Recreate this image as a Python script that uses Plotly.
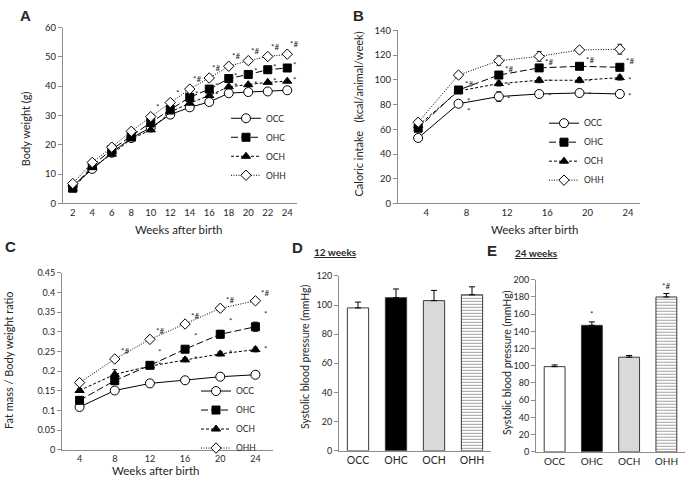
import plotly.graph_objects as go

W, H = 689, 493
FONT = "Lato"
TXT = "#262626"
AX = "#8c8c8c"

groups = ["OCC", "OHC", "OCH", "OHH"]

# ---------- Panel A: body weight ----------
weeks_A = [2, 4, 6, 8, 10, 12, 14, 16, 18, 20, 22, 24]
bw = {
    "OCC": [6.0, 11.8, 17.3, 22.3, 25.9, 30.3, 32.8, 34.6, 37.6, 38.0, 38.2, 38.6],
    "OHC": [5.2, 12.9, 18.4, 23.1, 27.6, 32.0, 36.2, 39.0, 42.6, 44.0, 45.6, 46.2],
    "OCH": [5.0, 12.3, 16.8, 22.0, 25.1, 31.2, 34.2, 36.8, 39.8, 40.5, 41.3, 41.7],
    "OHH": [6.8, 14.0, 19.2, 24.6, 29.6, 34.4, 39.0, 42.8, 46.8, 48.7, 50.1, 50.9],
}
sig_A = {
    "OHH": ["", "", "", "", "*", "*", "*#", "*#", "*#", "*#", "*#", "*#"],
    "OHC": ["", "", "", "", "", "", "*", "*", "*", "*", "*", "*"],
    "OCH": ["", "", "", "", "", "", "", "*", "*", "*", "*", "*"],
}

# ---------- Panel B: caloric intake ----------
weeks_B = [4, 8, 12, 16, 20, 24]
cal = {
    "OCC": [53.0, 80.7, 86.5, 88.6, 89.4, 88.6],
    "OHC": [60.9, 91.8, 103.9, 109.7, 111.0, 110.2],
    "OCH": [63.0, 91.0, 97.0, 99.7, 99.7, 101.8],
    "OHH": [65.7, 103.9, 115.5, 119.0, 124.2, 124.8],
}
cal_err = {
    "OCC": [2, 2, 4, 2, 3, 3],
    "OHC": [2, 2, 2, 2, 2, 2],
    "OCH": [2, 2, 2, 2, 2, 2],
    "OHH": [2, 2, 4, 4, 2, 4],
}
sig_B = {
    "OHC": ["", "*#", "*#", "*#", "*#", "*#"],
    "OCH": ["", "", "*", "*", "*", "*"],
    "OCC": ["", "*<br>*", "*", "*", "*", "*"],
}

# ---------- Panel C: fat mass ratio ----------
weeks_C = [4, 8, 12, 16, 20, 24]
fat = {
    "OCC": [0.109, 0.151, 0.169, 0.177, 0.186, 0.191],
    "OHC": [0.126, 0.176, 0.215, 0.256, 0.294, 0.313],
    "OCH": [0.151, 0.192, 0.213, 0.229, 0.244, 0.255],
    "OHH": [0.171, 0.231, 0.281, 0.320, 0.360, 0.379],
}
fat_err = {
    "OCC": [0.004, 0.004, 0.004, 0.004, 0.004, 0.004],
    "OHC": [0.005, 0.006, 0.005, 0.006, 0.010, 0.012],
    "OCH": [0.005, 0.012, 0.005, 0.005, 0.005, 0.006],
    "OHH": [0.004, 0.004, 0.004, 0.004, 0.004, 0.004],
}
sig_C = {
    "OHH": ["", "*#", "*#", "*#", "*#", "*#"],
    "OHC": ["", "", "*", "*", "*", "*"],
    "OCH": ["", "", "*", "*", "*", "*"],
}

# ---------- Panels D/E: systolic blood pressure ----------
sbp12 = [98, 105, 103, 107]
sbp12_err = [4, 6, 7, 5.5]
sbp24 = [99, 147, 110, 180]
sbp24_err = [2, 4, 2, 4]
sig24 = ["", "*", "", "*#"]

# ---------- styles ----------
style = {
    "OCC": dict(dash="solid", symbol="circle", fill="white", size=9),
    "OHC": dict(dash="7px,3px", symbol="square", fill="black", size=8),
    "OCH": dict(dash="3px,2px", symbol="triangle-up", fill="black", size=8),
    "OHH": dict(dash="1px,1.5px", symbol="diamond", fill="white", size=8),
}

fig = go.Figure()


def add_lines(xs, data, errs, xa, ya, legend):
    for g in groups:
        s = style[g]
        err = None
        if errs is not None:
            err = dict(type="data", array=errs[g], visible=True, color="black",
                       thickness=0.8, width=2.5)
        fig.add_trace(go.Scatter(
            x=xs, y=data[g], name=g, mode="lines+markers",
            xaxis=xa, yaxis=ya, legend=legend,
            line=dict(color="black", width=1, dash=s["dash"]),
            marker=dict(symbol=s["symbol"], size=s["size"], color=s["fill"],
                        line=dict(color="black", width=1)),
            error_y=err, hoverinfo="skip",
        ))


add_lines(weeks_A, bw, None, "x", "y", "legend")
add_lines(weeks_B, cal, cal_err, "x2", "y2", "legend2")
add_lines(weeks_C, fat, fat_err, "x3", "y3", "legend3")

bar_fill = ["white", "black", "#d9d9d9", "white"]
bar_pat = ["", "", "", "-"]
for xa, ya, vals, errs in (("x4", "y4", sbp12, sbp12_err), ("x5", "y5", sbp24, sbp24_err)):
    fig.add_trace(go.Bar(
        x=groups, y=vals, xaxis=xa, yaxis=ya, showlegend=False,
        marker=dict(color=bar_fill, line=dict(color="#3a3a3a", width=1),
                    pattern=dict(shape=bar_pat, fgcolor="black", bgcolor="white",
                                 size=3, solidity=0.35)),
        error_y=dict(type="data", array=errs, arrayminus=[0] * 4, symmetric=False,
                     color="black", thickness=1, width=3),
        hoverinfo="skip",
    ))

annotations = []


def sig(xs, vals, labels, xa, ya, xs_px, ys_px):
    for x, v, t in zip(xs, vals, labels):
        if t:
            annotations.append(dict(x=x, y=v, xref=xa, yref=ya, text=t, showarrow=False,
                                    xshift=xs_px, yshift=ys_px,
                                    font=dict(size=8, color=TXT, family=FONT)))


sig(weeks_A, bw["OHH"], sig_A["OHH"], "x", "y", 7, 10)
sig(weeks_A, bw["OHC"], sig_A["OHC"], "x", "y", 7, 3)
sig(weeks_A, bw["OCH"], sig_A["OCH"], "x", "y", 7, 1)
sig(weeks_B, cal["OHC"], sig_B["OHC"], "x2", "y2", 10, 6)
sig(weeks_B, cal["OCH"], sig_B["OCH"], "x2", "y2", 10, -2)
sig(weeks_B, cal["OCC"], sig_B["OCC"], "x2", "y2", 10, -2)
sig(weeks_C, fat["OHH"], sig_C["OHH"], "x3", "y3", 10, 8)
sig(weeks_C, fat["OHC"], sig_C["OHC"], "x3", "y3", 10, 13)
sig(weeks_C, fat["OCH"], sig_C["OCH"], "x3", "y3", 10, 1)
for g, v, e, t in zip(groups, sbp24, sbp24_err, sig24):
    if t:
        annotations.append(dict(x=g, y=v + e, xref="x5", yref="y5", text=t, showarrow=False,
                                yanchor="bottom", yshift=1,
                                font=dict(size=8, color=TXT, family=FONT)))


def px(xp, yp):
    return xp / W, 1 - yp / H


def label(text, xp, yp, size, angle=0, bold=False, family=FONT, xanchor="center"):
    x, y = px(xp, yp)
    annotations.append(dict(x=x, y=y, xref="paper", yref="paper", text=text,
                            showarrow=False, textangle=angle, xanchor=xanchor,
                            yanchor="middle",
                            font=dict(size=size, color=("black" if bold else TXT),
                                      family=family)))


# panel letters
label("<b>A</b>", 25, 10, 15, family="Arial")
label("<b>B</b>", 358, 10, 15, family="Arial")
label("<b>C</b>", 10, 246, 15, family="Arial")
label("<b>D</b>", 297, 247, 15, family="Arial")
label("<b>E</b>", 492, 250, 15, family="Arial")
label("<span style='text-decoration:underline'><b>12 weeks</b></span>", 335, 252, 10)
label("<span style='text-decoration:underline'><b>24 weeks</b></span>", 536, 253, 10)

# axis titles
label("Body weight (g)", 25, 126, 11, angle=-90)
label("Weeks after birth", 179, 229, 11.5)
label("Caloric intake   (kcal/animal/week)", 359, 111, 11, angle=-90)
label("Weeks after birth", 535, 229, 11.5)
label("Fat mass / Body weight ratio", 9, 362, 11, angle=-90)
label("Weeks after birth", 156, 475, 11.5)
label("Systolic blood pressure (mmHg)", 305, 359, 10.5, angle=-90)
label("Systolic blood pressure (mmHg)", 507, 364, 10.5, angle=-90)


def dom(a, b, total):
    return [a / total, b / total]


def ydom(top, bottom):
    return [1 - bottom / H, 1 - top / H]


base_ax = dict(showline=True, linecolor=AX, linewidth=1, showgrid=False, zeroline=False,
               tickfont=dict(size=9.5, color=TXT, family=FONT), fixedrange=True)
yax = dict(base_ax, ticks="outside", ticklen=4, tickcolor=AX, tickwidth=1)
xax = dict(base_ax, ticks="")

leg = dict(xanchor="left", yanchor="top", bgcolor="rgba(0,0,0,0)",
           font=dict(size=8.5, color=TXT, family=FONT), itemwidth=30, tracegroupgap=0)

fig.update_layout(
    width=W, height=H, margin=dict(l=0, r=0, t=0, b=0),
    paper_bgcolor="white", plot_bgcolor="white",
    font=dict(family=FONT, color=TXT),
    xaxis=dict(xax, domain=dom(63, 297, W), range=[1, 25], tickvals=weeks_A,
               anchor="y"),
    yaxis=dict(yax, domain=ydom(22, 202), range=[0, 60], dtick=10, anchor="x"),
    xaxis2=dict(xax, domain=dom(398, 640, W), range=[2, 26],
                tickvals=[w + 0.8 for w in weeks_B], ticktext=[str(w) for w in weeks_B],
                anchor="y2"),
    yaxis2=dict(yax, domain=ydom(25, 202), range=[0, 140], dtick=20, anchor="x2"),
    xaxis3=dict(xax, domain=dom(62, 273, W), range=[2, 26], tickvals=weeks_C,
                anchor="y3", tickfont=dict(size=9, color=TXT, family=FONT)),
    yaxis3=dict(yax, domain=ydom(273, 454), range=[0, 0.45], dtick=0.05,
                tickformat="~g", anchor="x3", tickfont=dict(size=9, color=TXT, family=FONT)),
    xaxis4=dict(xax, domain=dom(339, 491, W), anchor="y4",
                tickfont=dict(size=10.5, color=TXT, family=FONT)),
    yaxis4=dict(yax, domain=ydom(276, 455), range=[0, 120], dtick=20, anchor="x4",
                tickfont=dict(size=9, color=TXT, family=FONT)),
    xaxis5=dict(xax, domain=dom(536, 685, W), anchor="y5",
                tickfont=dict(size=10, color=TXT, family=FONT)),
    yaxis5=dict(yax, domain=ydom(280, 456), range=[0, 200], dtick=20, anchor="x5",
                tickfont=dict(size=9, color=TXT, family=FONT)),
    bargap=0.44,
    annotations=annotations,
    legend=dict(leg, x=226 / W, y=1 - 100 / H),
    legend2=dict(leg, x=544 / W, y=1 - 105 / H),
    legend3=dict(leg, x=196 / W, y=1 - 379 / H),
)

fig.write_html("out.html", config={"displayModeBar": False},
               post_script="document.body.style.margin='0';document.body.style.padding='0';")
